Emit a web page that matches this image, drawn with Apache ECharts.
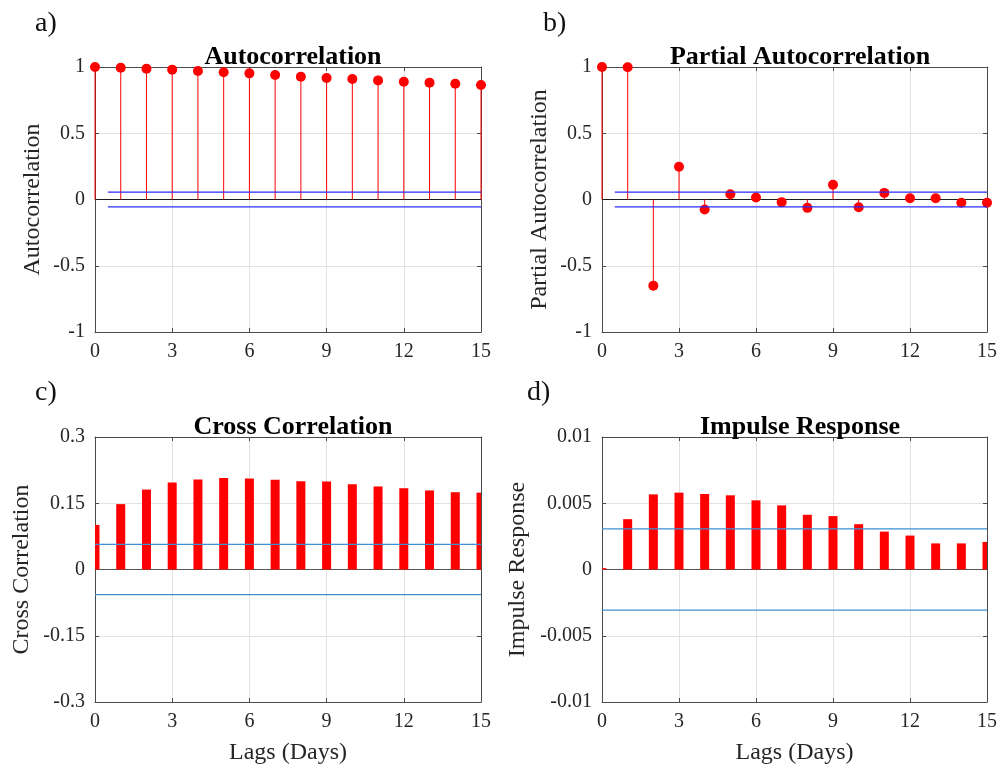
<!DOCTYPE html>
<html>
<head>
<meta charset="utf-8">
<script src="https://cdn.jsdelivr.net/npm/echarts@6/dist/echarts.min.js"></script>
<style>
  html, body { margin: 0; padding: 0; background: #ffffff; }
  #chart { width: 1000px; height: 766px; }
</style>
</head>
<body>
<div id="chart"></div>
<script>
// Lags in days
const lags = [0, 1, 2, 3, 4, 5, 6, 7, 8, 9, 10, 11, 12, 13, 14, 15];

// a) sample autocorrelation
const acfValues = [1.0, 0.995, 0.987, 0.980, 0.970, 0.960, 0.952, 0.940, 0.927, 0.917, 0.909, 0.899, 0.889, 0.882, 0.874, 0.864];
// b) sample partial autocorrelation
const pacfValues = [1.0, 0.998, -0.650, 0.247, -0.076, 0.040, 0.015, -0.020, -0.063, 0.111, -0.058, 0.050, 0.010, 0.010, -0.025, -0.025];
// c) cross correlation
const ccfValues = [0.101, 0.148, 0.181, 0.197, 0.204, 0.207, 0.206, 0.203, 0.200, 0.1995, 0.193, 0.188, 0.184, 0.179, 0.175, 0.174];
// d) impulse response
const impulseValues = [0.0001, 0.0038, 0.00567, 0.0058, 0.0057, 0.0056, 0.00522, 0.00484, 0.00413, 0.00403, 0.00342, 0.00286, 0.00256, 0.00197, 0.00197, 0.00208];

// confidence bounds (±)
const acfBound = 0.056;
const pacfBound = 0.056;
const ccfBound = 0.057;
const impulseBound = 0.00307;

// tick labels
const lagTicks = [0, 3, 6, 9, 12, 15];
const acfTicks = [-1, -0.5, 0, 0.5, 1];
const ccfTicks = [-0.3, -0.15, 0, 0.15, 0.3];
const impulseTicks = [-0.01, -0.005, 0, 0.005, 0.01];

const panelLabels = ['a)', 'b)', 'c)', 'd)'];
const titles = ['Autocorrelation', 'Partial Autocorrelation', 'Cross Correlation', 'Impulse Response'];
const yNames = ['Autocorrelation', 'Partial Autocorrelation', 'Cross Correlation', 'Impulse Response'];
const xName = 'Lags (Days)';

const FONT = "'Liberation Serif', 'Times New Roman', serif";
const AXIS_COLOR = '#4a4a4a';
const GRID_COLOR = '#e2e2e2';

const grids = [
  { left: 95, top: 67, width: 386, height: 265 },
  { left: 602, top: 67, width: 386, height: 265 },
  { left: 95, top: 437, width: 386, height: 265 },
  { left: 602, top: 437, width: 386, height: 265 }
];
const yTickSets = [acfTicks, acfTicks, ccfTicks, impulseTicks];
const yNameGaps = [50, 50, 61, 72];

const fmt = v => String(Math.round(v * 1e6) / 1e6);
const pairs = vals => lags.map((l, i) => [l, vals[i]]);

const xAxes = [];
const yAxes = [];
grids.forEach((g, gi) => {
  const xMin = lagTicks[0], xMax = lagTicks[lagTicks.length - 1];
  const xInt = lagTicks[1] - lagTicks[0];
  const yt = yTickSets[gi];
  const yMin = yt[0], yMax = yt[yt.length - 1], yInt = yt[1] - yt[0];
  const bottomRow = gi >= 2;
  xAxes.push({
    type: 'value', gridIndex: gi, position: 'bottom',
    min: xMin, max: xMax, interval: xInt,
    name: bottomRow ? xName : '', nameLocation: 'middle', nameGap: 39,
    nameTextStyle: { fontFamily: FONT, fontSize: 24, color: '#262626' },
    axisLine: { show: true, onZero: false, lineStyle: { color: AXIS_COLOR, width: 1 } },
    axisTick: { show: true, inside: true, length: 4, lineStyle: { color: AXIS_COLOR } },
    axisLabel: { fontFamily: FONT, fontSize: 20, color: '#262626', margin: 10, formatter: fmt },
    splitLine: { show: true, lineStyle: { color: GRID_COLOR, width: 1 } }
  });
  xAxes.push({
    type: 'value', gridIndex: gi, position: 'top',
    min: xMin, max: xMax, interval: xInt,
    axisLine: { show: true, onZero: false, lineStyle: { color: AXIS_COLOR, width: 1 } },
    axisTick: { show: true, inside: true, length: 4, lineStyle: { color: AXIS_COLOR } },
    axisLabel: { show: false },
    splitLine: { show: false }
  });
  yAxes.push({
    type: 'value', gridIndex: gi, position: 'left',
    min: yMin, max: yMax, interval: yInt,
    name: yNames[gi], nameLocation: 'middle', nameGap: yNameGaps[gi],
    nameTextStyle: { fontFamily: FONT, fontSize: 24, color: '#262626' },
    axisLine: { show: true, onZero: false, lineStyle: { color: AXIS_COLOR, width: 1 } },
    axisTick: { show: true, inside: true, length: 4, lineStyle: { color: AXIS_COLOR } },
    axisLabel: { fontFamily: FONT, fontSize: 20, color: '#262626', margin: 10, formatter: fmt },
    splitLine: { show: true, lineStyle: { color: GRID_COLOR, width: 1 } }
  });
  yAxes.push({
    type: 'value', gridIndex: gi, position: 'right',
    min: yMin, max: yMax, interval: yInt,
    axisLine: { show: true, onZero: false, lineStyle: { color: AXIS_COLOR, width: 1 } },
    axisTick: { show: true, inside: true, length: 4, lineStyle: { color: AXIS_COLOR } },
    axisLabel: { show: false },
    splitLine: { show: false }
  });
});

function hLine(gi, x0, x1, y, color, width, z) {
  return {
    type: 'line', xAxisIndex: gi * 2, yAxisIndex: gi * 2,
    data: [[x0, y], [x1, y]], symbol: 'none', silent: true, z: z,
    lineStyle: { color: color, width: width }, animation: false
  };
}

function stemSeries(gi, vals, bound) {
  return [
    hLine(gi, 0, 15, 0, '#1a1a1a', 1, 2),
    {
      type: 'bar', xAxisIndex: gi * 2, yAxisIndex: gi * 2,
      data: pairs(vals), barWidth: 1, z: 3,
      itemStyle: { color: '#ff0000' }, animation: false
    },
    {
      type: 'scatter', xAxisIndex: gi * 2, yAxisIndex: gi * 2,
      data: pairs(vals), symbol: 'circle', symbolSize: 10, clip: false, z: 4,
      itemStyle: { color: '#ff0000', opacity: 1 }, animation: false
    },
    hLine(gi, 0.5, 15, bound, '#2b2bff', 1.2, 5),
    hLine(gi, 0.5, 15, -bound, '#2b2bff', 1.2, 5)
  ];
}

// Bars drawn as rectangles clipped to the plot box, so the end lags show half a bar
function clippedBar(params, api) {
  const x = api.value(0), y = api.value(1);
  const top = api.coord([x, y]);
  const base = api.coord([x, 0]);
  const w = 9;
  const rect = {
    x: top[0] - w / 2,
    y: Math.min(top[1], base[1]),
    width: w,
    height: Math.max(Math.abs(base[1] - top[1]), 1)
  };
  const cs = params.coordSys;
  const shape = echarts.graphic.clipRectByRect(rect, { x: cs.x, y: cs.y, width: cs.width, height: cs.height });
  return shape && { type: 'rect', shape: shape, style: { fill: '#ff0000' } };
}

function barSeries(gi, vals, bound) {
  return [
    hLine(gi, 0, 15, 0, '#555555', 1, 2),
    {
      type: 'custom', xAxisIndex: gi * 2, yAxisIndex: gi * 2,
      data: pairs(vals), encode: { x: 0, y: 1 }, renderItem: clippedBar, z: 3,
      animation: false
    },
    hLine(gi, 0, 15, bound, '#3b8fd2', 1.2, 5),
    hLine(gi, 0, 15, -bound, '#3b8fd2', 1.2, 5)
  ];
}

const titleOpts = grids.map((g, gi) => ({
  text: titles[gi],
  left: g.left + g.width / 2,
  top: gi < 2 ? 39 : 409,
  textAlign: 'center',
  textStyle: { fontFamily: FONT, fontSize: 26, fontWeight: 'bold', color: '#000000' }
}));

const labelPos = [[35, 24], [543, 24], [35, 393], [527, 393]];
const graphics = panelLabels.map((t, i) => ({
  type: 'text', x: labelPos[i][0], y: labelPos[i][1],
  style: { text: t, font: "28px 'Liberation Serif', serif", fill: '#111111', verticalAlign: 'middle', align: 'left' }
}));

const chart = echarts.init(document.getElementById('chart'), null, { renderer: 'canvas' });
chart.setOption({
  backgroundColor: '#ffffff',
  animation: false,
  title: titleOpts,
  grid: grids,
  xAxis: xAxes,
  yAxis: yAxes,
  graphic: graphics,
  series: [
    ...stemSeries(0, acfValues, acfBound),
    ...stemSeries(1, pacfValues, pacfBound),
    ...barSeries(2, ccfValues, ccfBound),
    ...barSeries(3, impulseValues, impulseBound)
  ]
});
</script>
</body>
</html>
